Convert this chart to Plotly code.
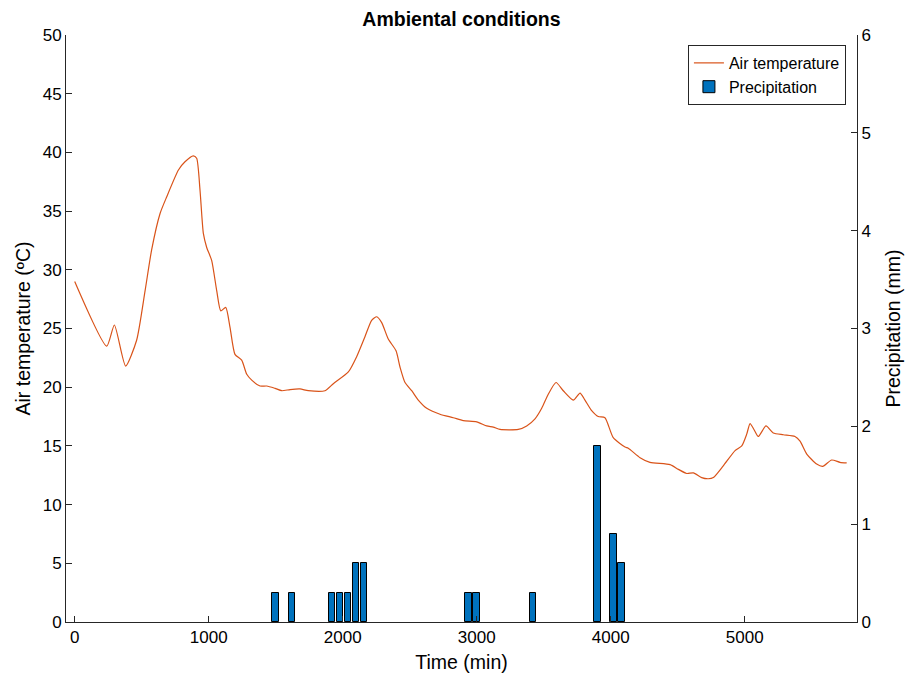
import plotly.graph_objects as go

# Air temperature record (time in min, temperature in ºC)
temp_time = [0, 239, 296, 380, 462, 525, 574, 637, 686, 774, 823, 885, 910, 935, 960,
             985, 1022, 1060, 1090, 1127, 1159, 1196, 1246, 1284, 1321, 1383, 1433,
             1495, 1545, 1607, 1681, 1743, 1868, 1930, 2042, 2104, 2166, 2216, 2254,
             2291, 2340, 2398, 2428, 2465, 2515, 2564, 2627, 2726, 2825, 2900, 3000,
             3075, 3124, 3174, 3310, 3373, 3435, 3485, 3534, 3592, 3646, 3721, 3771,
             3808, 3858, 3907, 3957, 4019, 4107, 4131, 4219, 4293, 4443, 4505, 4567,
             4617, 4679, 4728, 4766, 4840, 4928, 4978, 5015, 5040, 5069, 5101, 5159,
             5213, 5288, 5375, 5413, 5463, 5537, 5582, 5649, 5711, 5761]
temp_values = [29.0, 23.5, 25.3, 21.8, 24.0, 28.2, 31.7, 34.8, 36.2, 38.5, 39.2, 39.7,
               39.5, 36.8, 33.1, 31.9, 30.8, 28.2, 26.5, 26.8, 25.1, 22.8, 22.3, 21.1,
               20.6, 20.1, 20.1, 19.9, 19.7, 19.8, 19.85, 19.7, 19.7, 20.3, 21.3, 22.6,
               24.3, 25.7, 26.0, 25.5, 24.1, 23.1, 21.7, 20.4, 19.7, 18.9, 18.2, 17.7,
               17.4, 17.15, 17.05, 16.7, 16.6, 16.4, 16.4, 16.7, 17.3, 18.2, 19.4, 20.4,
               19.7, 18.9, 19.5, 18.9, 18.0, 17.5, 17.4, 15.7, 14.9, 14.8, 14.0, 13.6,
               13.4, 13.0, 12.65, 12.7, 12.3, 12.2, 12.3, 13.3, 14.6, 15.0, 16.0, 16.9,
               16.4, 15.8, 16.7, 16.1, 15.95, 15.8, 15.4, 14.3, 13.45, 13.25, 13.8,
               13.6, 13.55]

# Hourly precipitation (time in min, precipitation in mm)
rain_time = [1500, 1620, 1920, 1980, 2040, 2100, 2160, 2940, 3000, 3420, 3900, 4020, 4080]
rain_values = [0.3, 0.3, 0.3, 0.3, 0.3, 0.6, 0.6, 0.3, 0.3, 0.3, 1.8, 0.9, 0.6]

x_ticks = [0, 1000, 2000, 3000, 4000, 5000]
temp_ticks = [0, 5, 10, 15, 20, 25, 30, 35, 40, 45, 50]
rain_ticks = [0, 1, 2, 3, 4, 5, 6]

axis_color = "#262626"
font_family = "Liberation Sans, Arial, sans-serif"

fig = go.Figure()

fig.add_trace(go.Scatter(
    x=temp_time, y=temp_values, mode="lines", name="Air temperature",
    line=dict(color="#D95319", width=1.2, shape="spline", smoothing=0.6),
    yaxis="y",
))

fig.add_trace(go.Bar(
    x=rain_time, y=rain_values, name="Precipitation", width=48,
    marker=dict(color="#0072BD", line=dict(color="#000000", width=1)),
    yaxis="y2",
))

fig.update_layout(
    width=905, height=680,
    margin=dict(l=66, r=48, t=35, b=58, autoexpand=False),
    paper_bgcolor="white", plot_bgcolor="white",
    font=dict(family=font_family, size=17, color="#000000"),
    title=dict(text="<b>Ambiental conditions</b>", x=0.5, xref="paper",
               xanchor="center", y=0.972, yanchor="middle",
               font=dict(size=19.5, color="#000000")),
    showlegend=True,
    legend=dict(x=0.986, y=0.983, xanchor="right", yanchor="top",
                bgcolor="white", bordercolor=axis_color, borderwidth=1,
                font=dict(size=16, color="#000000"),
                tracegroupgap=0, itemwidth=30),
    bargap=0,
    xaxis=dict(
        range=[-65, 5838], tickvals=x_ticks, ticks="inside", ticklen=6,
        tickcolor=axis_color, showline=True, linecolor=axis_color, linewidth=1,
        showgrid=False, zeroline=False, mirror=False,
        title=dict(text="Time (min)", standoff=8, font=dict(size=19.5)),
    ),
    yaxis=dict(
        range=[0, 50], tickvals=temp_ticks, ticks="inside", ticklen=6,
        tickcolor=axis_color, showline=True, linecolor=axis_color, linewidth=1,
        showgrid=False, zeroline=False,
        title=dict(text="Air temperature (ºC)", standoff=6, font=dict(size=19.5)),
    ),
    yaxis2=dict(
        range=[0, 6], tickvals=rain_ticks, ticks="inside", ticklen=6,
        tickcolor=axis_color, showline=True, linecolor=axis_color, linewidth=1,
        showgrid=False, zeroline=False, overlaying="y", side="right",
        title=dict(text="Precipitation (mm)", standoff=16, font=dict(size=19.5)),
    ),
)

fig.write_html("out.html")
